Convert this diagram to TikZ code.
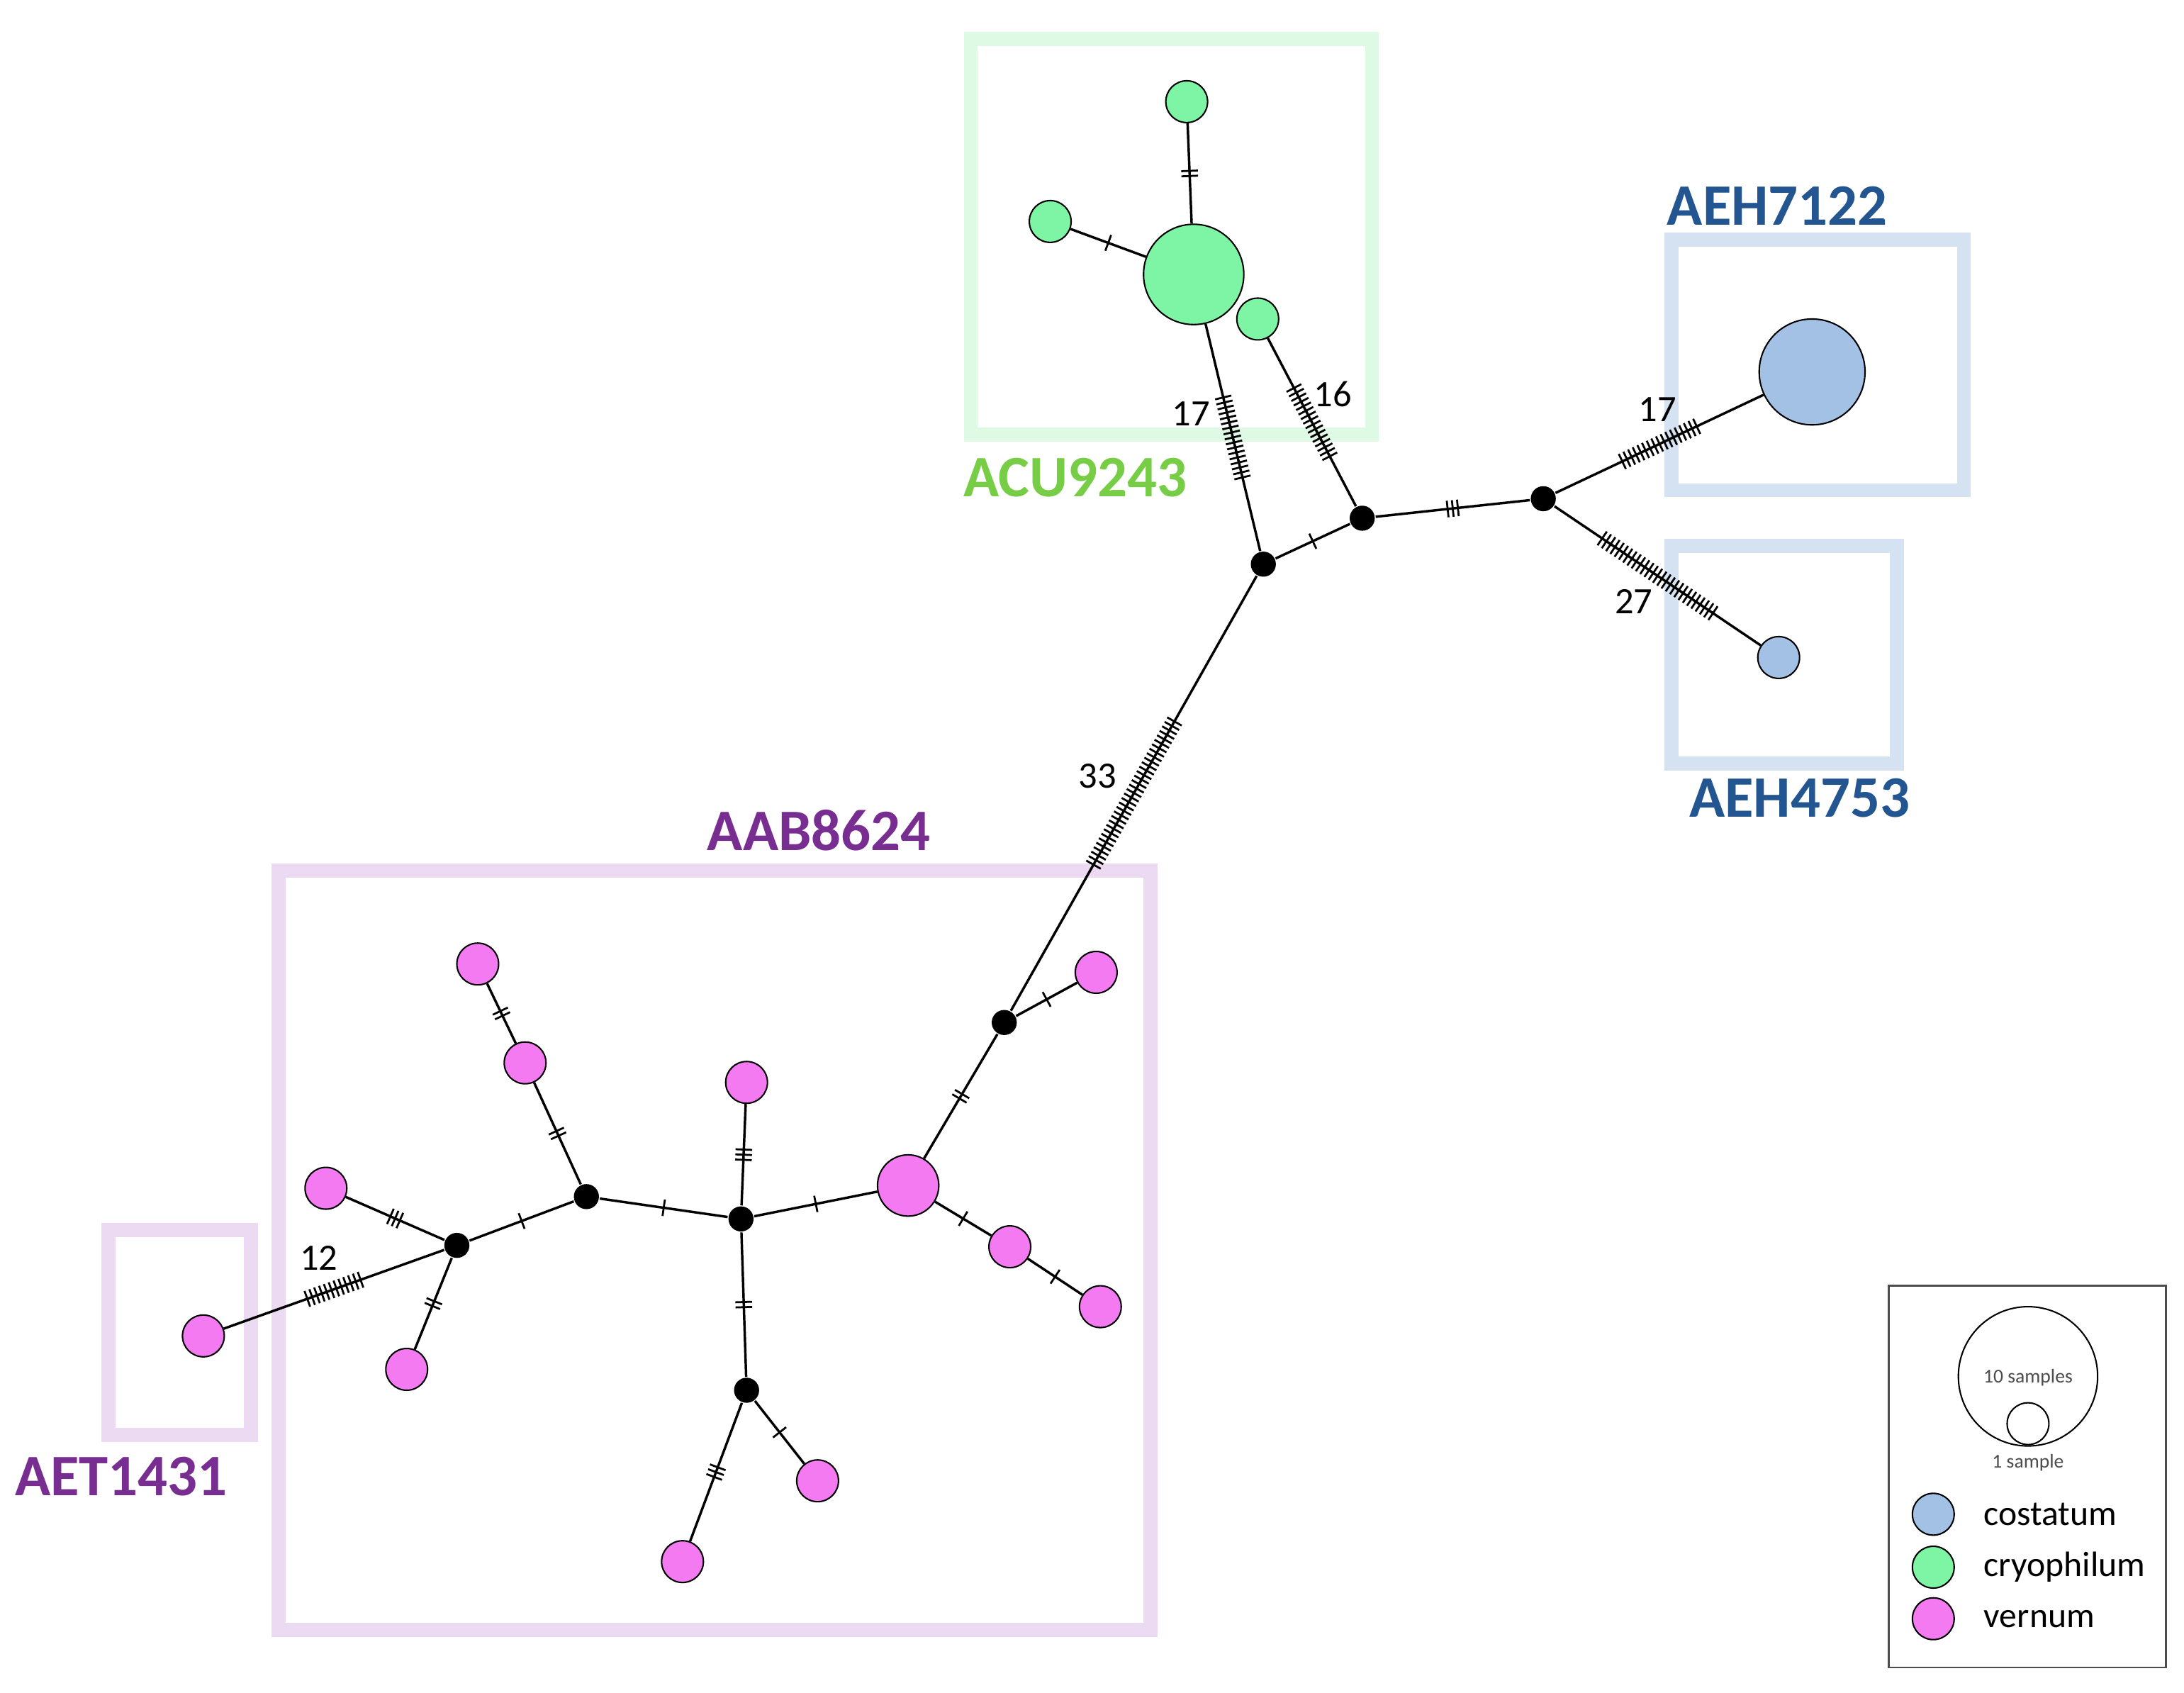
\documentclass[tikz,border=0pt]{standalone}
\usepackage{fontspec}
\setmainfont{Carlito}
\setsansfont{Carlito}
\usetikzlibrary{decorations.markings}
\definecolor{gfill}{RGB}{125,245,165}
\definecolor{bfill}{RGB}{163,193,228}
\definecolor{pfill}{RGB}{243,122,240}
\definecolor{gbox}{RGB}{222,250,228}
\definecolor{bbox}{RGB}{212,226,242}
\definecolor{pbox}{RGB}{236,218,242}
\definecolor{glab}{RGB}{120,205,70}
\definecolor{blab}{RGB}{35,85,145}
\definecolor{plab}{RGB}{120,45,145}
\tikzset{
 hap/.style={circle,draw=black,line width=0.3pt,inner sep=0pt,minimum size=#1*0.1mm},
 g/.style={hap=#1,fill=gfill}, b/.style={hap=#1,fill=bfill}, p/.style={hap=#1,fill=pfill},
 med/.style={circle,fill=black,inner sep=0pt,minimum size=1.8mm},
 e/.style={line width=0.5pt},
 ticks/.style={postaction={decorate},decoration={markings,mark=at position 0.5 with {
   \foreach \i in {1,...,#1}{\draw[line width=0.4pt] ({(\i-(#1+1)/2)*1.05pt},-1.7pt) -- ({(\i-(#1+1)/2)*1.05pt},1.7pt);}}}},
 box/.style={line width=1mm},
 lab/.style={font=\bfseries\fontsize{12}{14}\selectfont},
 num/.style={font=\fontsize{7.6}{9}\selectfont},
}
\begin{document}
\begin{tikzpicture}[x=0.1mm,y=-0.1mm]
\useasboundingbox (0,0) rectangle (1568,1215);
% boxes
\draw[box,gbox] (697,28) rectangle (985,312);
\draw[box,bbox] (1200,172) rectangle (1410,352);
\draw[box,bbox] (1200,392) rectangle (1362,548);
\draw[box,pbox] (200,625) rectangle (826,1170);
\draw[box,pbox] (78,883) rectangle (180,1030);
\node[lab,text=glab] (l1) at (772,343) {ACU9243};
\node[lab,text=blab] (l2) at (1276,148) {AEH7122};
\node[lab,text=blab] (l3) at (1292,573) {AEH4753};
\node[lab,text=plab] (l4) at (588,596) {AAB8624};
\node[lab,text=plab] (l5) at (87,1060) {AET1431};
% medians
\node[med] (B1) at (907,405) {};
\node[med] (B2) at (978,372) {};
\node[med] (B3) at (1108,358) {};
\node[med] (B4) at (721,734) {};
\node[med] (B5) at (532,875) {};
\node[med] (B6) at (421,859) {};
\node[med] (B7) at (328,894) {};
\node[med] (B8) at (536,998) {};
% haplotypes
\node[g=72] (G0) at (857,197) {};
\node[g=30] (G1) at (852,73) {};
\node[g=30] (G2) at (754,159) {};
\node[g=30] (G3) at (903,229) {};
\node[b=76] (C1) at (1301,267) {};
\node[b=30] (C2) at (1277,472) {};
\node[p=44] (PB) at (652,851) {};
\node[p=30] (P1) at (787,698) {};
\node[p=30] (P2) at (725,895) {};
\node[p=30] (P3) at (790,938) {};
\node[p=30] (P4) at (536,777) {};
\node[p=30] (P5) at (343,692) {};
\node[p=30] (P6) at (377,763) {};
\node[p=30] (P7) at (234,853) {};
\node[p=30] (P8) at (292,983) {};
\node[p=30] (P9) at (146,959) {};
\node[p=30] (P10) at (587,1063) {};
\node[p=30] (P11) at (490,1121) {};
% edges
\draw[e,ticks=2] (G0) -- (G1);
\draw[e,ticks=1] (G0) -- (G2);
\draw[e,ticks=17] (G0) -- (B1);
\draw[e,ticks=16] (G3) -- (B2);
\draw[e,ticks=1] (B1) -- (B2);
\draw[e,ticks=3] (B2) -- (B3);
\draw[e,ticks=17] (B3) -- (C1);
\draw[e,ticks=27] (B3) -- (C2);
\draw[e,ticks=33] (B1) -- (B4);
\draw[e,ticks=1] (B4) -- (P1);
\draw[e,ticks=2] (B4) -- (PB);
\draw[e,ticks=1] (PB) -- (P2);
\draw[e,ticks=1] (P2) -- (P3);
\draw[e,ticks=1] (PB) -- (B5);
\draw[e,ticks=3] (B5) -- (P4);
\draw[e,ticks=1] (B5) -- (B6);
\draw[e,ticks=2] (B6) -- (P6);
\draw[e,ticks=2] (P6) -- (P5);
\draw[e,ticks=1] (B6) -- (B7);
\draw[e,ticks=3] (B7) -- (P7);
\draw[e,ticks=2] (B7) -- (P8);
\draw[e,ticks=12] (B7) -- (P9);
\draw[e,ticks=2] (B5) -- (B8);
\draw[e,ticks=1] (B8) -- (P10);
\draw[e,ticks=3] (B8) -- (P11);
\node[num] (n1) at (855,297) {17};
\node[num] (n2) at (957,283) {16};
\node[num] (n3) at (1190,294) {17};
\node[num] (n4) at (1173,432) {27};
\node[num] (n5) at (788,557) {33};
\node[num] (n6) at (229,903) {12};
% legend
\draw[line width=0.4pt,draw=black!70] (1356,923) rectangle (1555,1197);
\node[hap=100,fill=white] (L10) at (1456,988) {};
\node[hap=30,fill=white] (L1) at (1456,1022) {};
\node[font=\sffamily\fontsize{4}{5}\selectfont,text=black!70] (t10) at (1456,989) {10 samples};
\node[font=\sffamily\fontsize{4}{5}\selectfont,text=black!70] (t1) at (1456,1050) {1 sample};
\node[b=30] (LC) at (1388,1087) {};
\node[g=30] (LG) at (1388,1125) {};
\node[p=30] (LP) at (1388,1162) {};
\node[anchor=west,font=\sffamily\fontsize{7.2}{8}\selectfont] (tc) at (1412,1087) {costatum};
\node[anchor=west,font=\sffamily\fontsize{7.2}{8}\selectfont] (tg) at (1412,1125) {cryophilum};
\node[anchor=west,font=\sffamily\fontsize{7.2}{8}\selectfont] (tp) at (1412,1162) {vernum};
\end{tikzpicture}
\end{document}
